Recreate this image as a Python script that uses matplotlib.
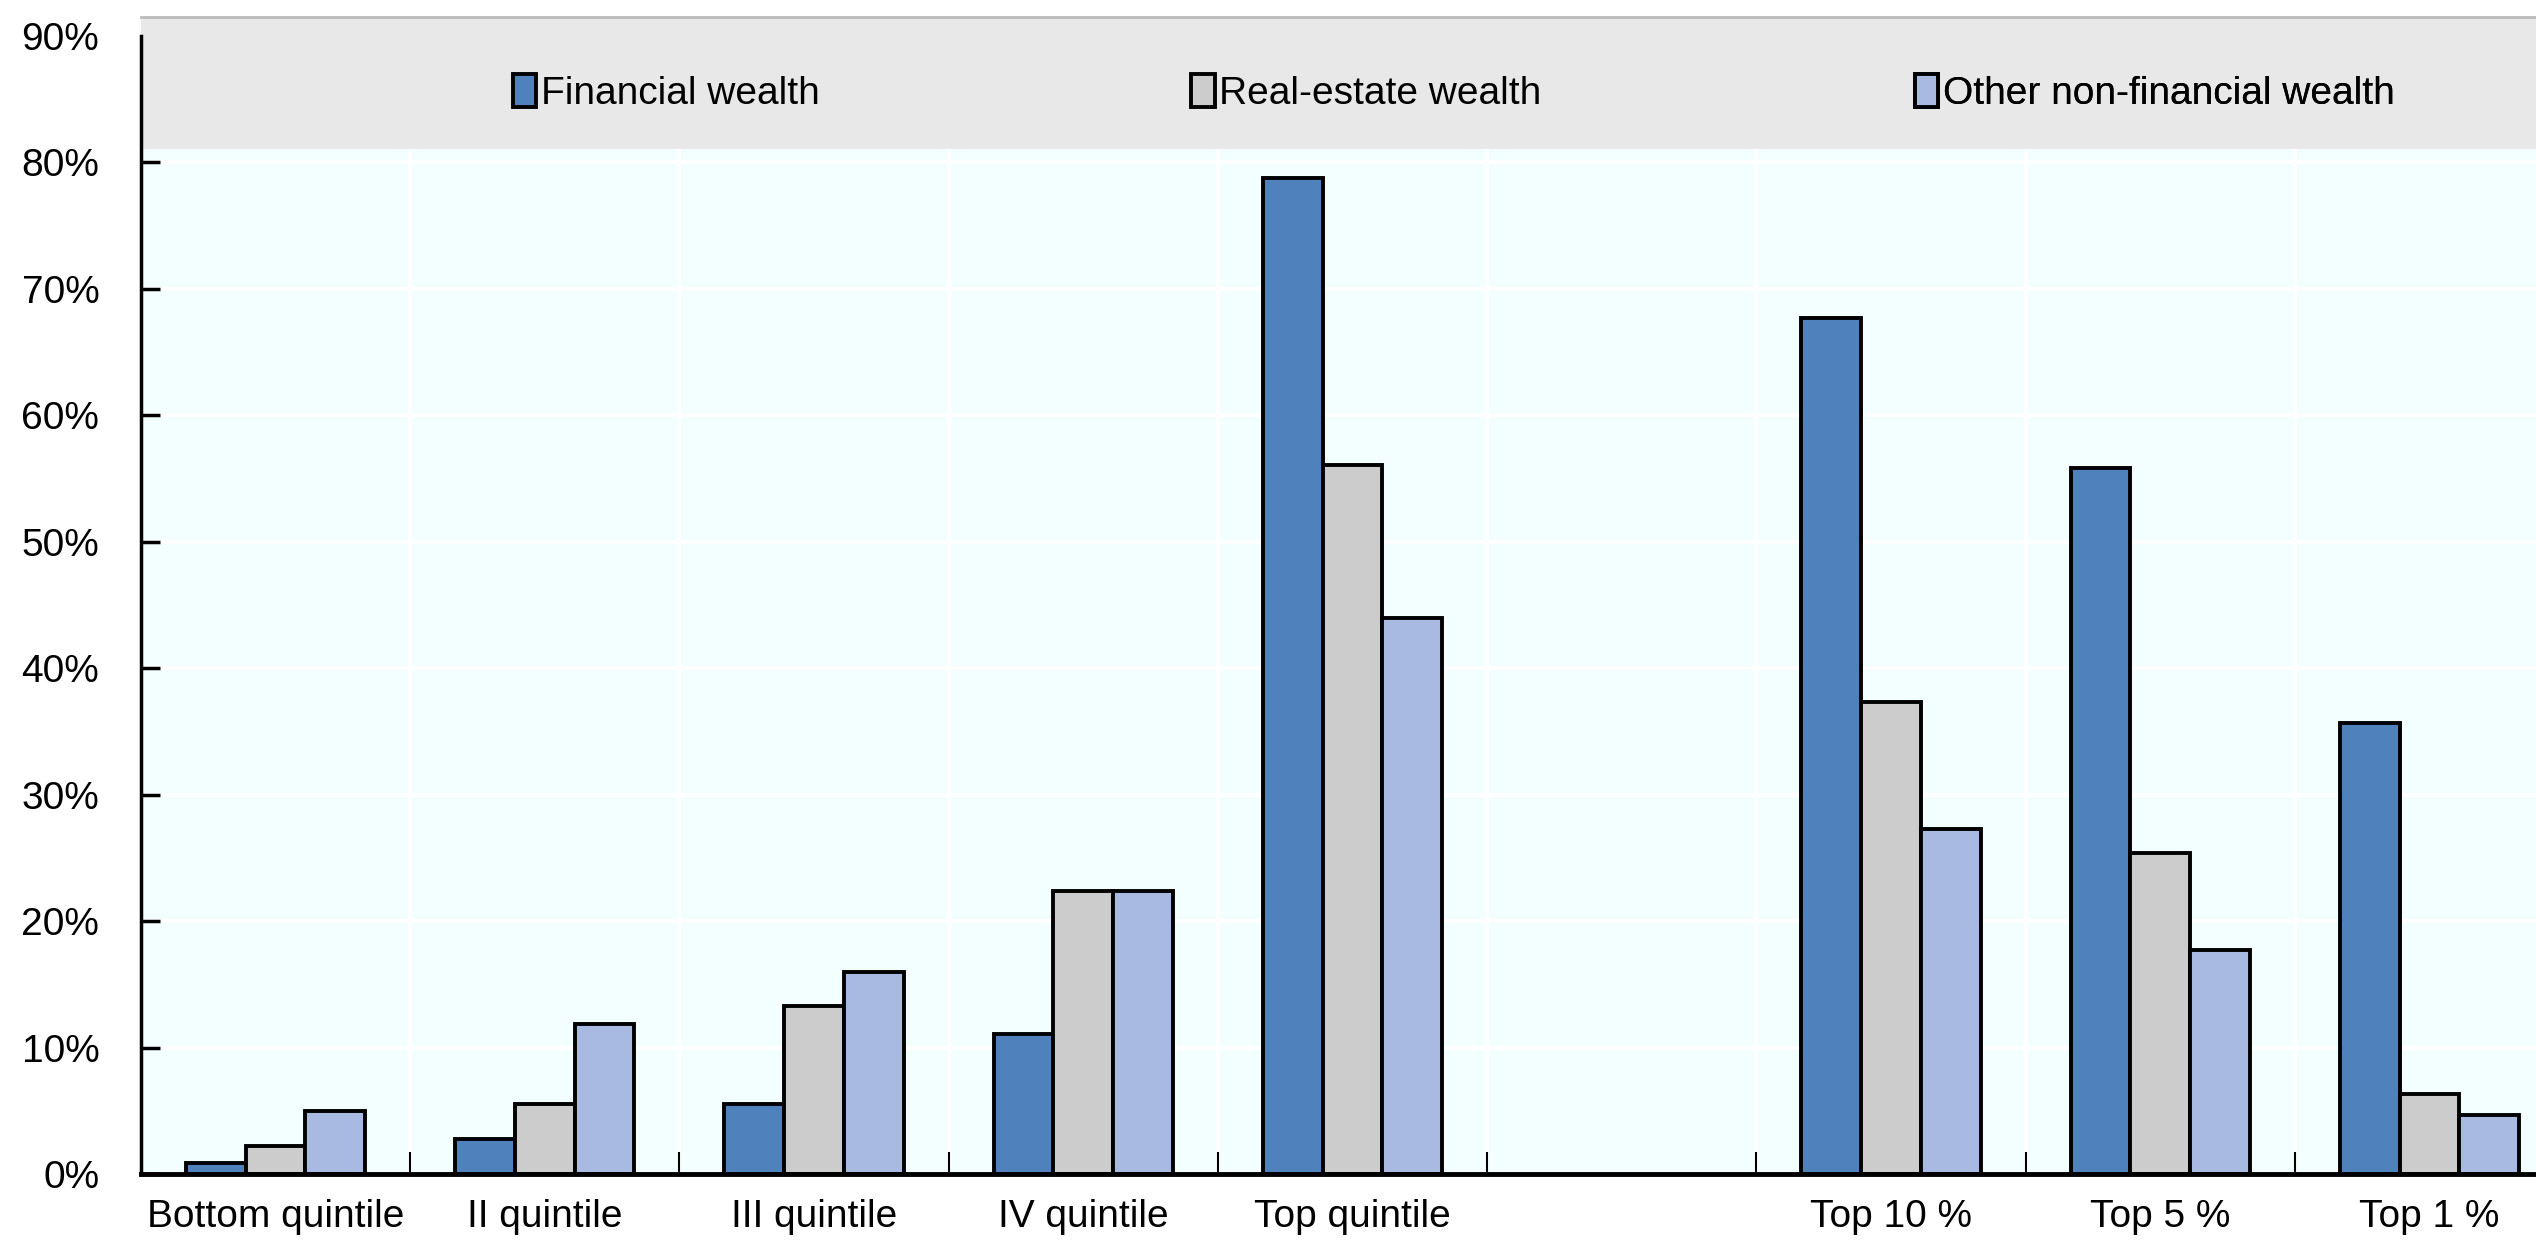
import matplotlib
matplotlib.use("Agg")

import matplotlib.pyplot as plt
import numpy as np
from matplotlib.patches import Patch, Rectangle

plt.rcParams["font.family"] = ["Liberation Sans", "DejaVu Sans"]

categories = [
    "Bottom quintile", "II quintile", "III quintile", "IV quintile", "Top quintile",
    "", "Top 10 %", "Top 5 %", "Top 1 %",
]
series_names = ["Financial wealth", "Real-estate wealth", "Other non-financial wealth"]
financial = [0.9, 2.8, 5.5, 11.1, 78.8, np.nan, 67.7, 55.8, 35.7]
real_estate = [2.2, 5.5, 13.3, 22.4, 56.1, np.nan, 37.3, 25.4, 6.3]
other_nonfin = [5.0, 11.9, 16.0, 22.4, 44.0, np.nan, 27.3, 17.7, 4.7]
y_ticks = [0, 10, 20, 30, 40, 50, 60, 70, 80, 90]

COLORS = ["#4F81BD", "#CCCCCC", "#A8B9E2"]
BG_COLOR = "#F3FEFE"
BAND_COLOR = "#E8E8E8"
FONT_SIZE = 28
BAR_WIDTH = 0.222

W, H = 2536, 1246
fig = plt.figure(figsize=(W / 100, H / 100), dpi=100)
left, right, top, bottom = 141, 2564, 36, 1174
ax = fig.add_axes([left / W, 1 - bottom / H, (right - left) / W, (bottom - top) / H])
ax.set_facecolor(BG_COLOR)

x = np.arange(len(categories))
for i, (vals, color) in enumerate(zip([financial, real_estate, other_nonfin], COLORS)):
    vals = np.asarray(vals, dtype=float)
    ok = ~np.isnan(vals)
    ax.bar(x[ok] + (i - 1) * BAR_WIDTH, vals[ok], width=BAR_WIDTH, color=color,
           edgecolor="black", linewidth=2.8, zorder=3)

ax.set_xlim(-0.5, len(categories) - 0.5)
ax.set_ylim(0, 90)

# y axis: ticks pointing inward, percent labels
ax.set_yticks(y_ticks)
ax.set_yticklabels([f"{t}%" for t in y_ticks], fontsize=FONT_SIZE)
ax.tick_params(axis="y", direction="in", length=14, width=2.5, pad=30)

# x axis: separators as major ticks, category names on minor ticks
ax.set_xticks(x[:-1] + 0.5)
ax.set_xticklabels([])
ax.tick_params(axis="x", which="major", direction="in", length=16, width=1.5)
ax.set_xticks(x, minor=True)
ax.set_xticklabels(categories, minor=True, fontsize=FONT_SIZE)
ax.tick_params(axis="x", which="minor", length=0, pad=18)

ax.grid(True, which="major", color="white", linewidth=3)
ax.set_axisbelow(True)

for side in ["top", "right"]:
    ax.spines[side].set_visible(False)
ax.spines["left"].set_linewidth(2.5)
ax.spines["bottom"].set_linewidth(3.5)
ax.spines["left"].set_zorder(5)
ax.spines["bottom"].set_zorder(5)

# grey legend band across the top of the plot
band = Rectangle((-0.5, 81.1), len(categories), 10.4, facecolor=BAND_COLOR,
                 edgecolor="none", zorder=2, clip_on=False)
ax.add_patch(band)
ax.plot([-0.5, len(categories) - 0.5], [91.5, 91.5], color="#BBBBBB", lw=2,
        clip_on=False, zorder=2)

# one legend entry per series, each anchored at its own spot in the band
entry_x = [0.1535, 0.4335, 0.7320]
for name, color, ex in zip(series_names, COLORS, entry_x):
    handle = Patch(facecolor=color, edgecolor="black", linewidth=2.8)
    leg = ax.legend([handle], [name], loc="center left", bbox_to_anchor=(ex, 0.95),
                    frameon=False, fontsize=FONT_SIZE, handlelength=0.6,
                    handleheight=0.95, handletextpad=0.12, borderpad=0,
                    borderaxespad=0)
    ax.add_artist(leg)

fig.savefig("out.png", dpi=100)
